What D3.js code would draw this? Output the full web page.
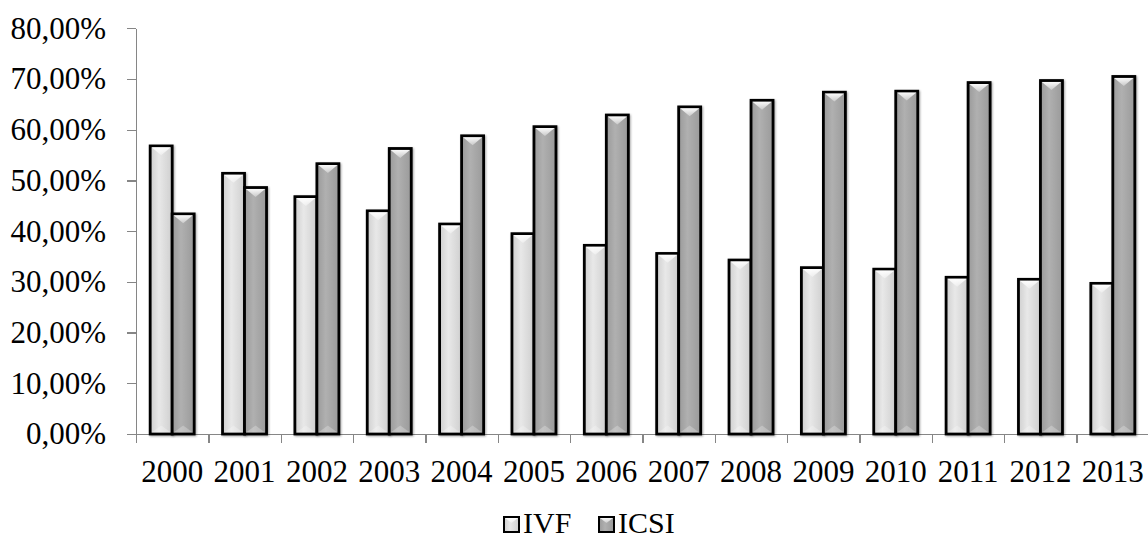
<!DOCTYPE html>
<html>
<head>
<meta charset="utf-8">
<script src="https://cdn.jsdelivr.net/npm/d3@7"></script>
<style>
  html, body { margin: 0; padding: 0; background: #fff; }
  svg { display: block; }
  text { font-family: "Liberation Serif", "Times New Roman", serif; fill: #000; }
  .axis path, .axis line { stroke: #868686; stroke-width: 1.3; shape-rendering: crispEdges; }
  .axis text { font-size: 31px; }
</style>
</head>
<body>
<svg width="1148" height="542"></svg>
<script>
// data
var years = ['2000', '2001', '2002', '2003', '2004', '2005', '2006',
    '2007', '2008', '2009', '2010', '2011', '2012', '2013'];
var seriesNames = ['IVF', 'ICSI'];
var ivf = [0.568, 0.514, 0.468, 0.440, 0.414, 0.395, 0.372, 0.356, 0.343, 0.328, 0.325, 0.309, 0.305, 0.297];
var icsi = [0.434, 0.486, 0.533, 0.563, 0.588, 0.606, 0.629, 0.645, 0.658, 0.674, 0.676, 0.693, 0.697, 0.705];
var yTicks = [0, 0.1, 0.2, 0.3, 0.4, 0.5, 0.6, 0.7, 0.8];

var svg = d3.select('svg');

// Layout
var plot = { l: 136, r: 1149, t: 28.3, b: 434 };
var barW = 22;

var x0 = d3.scaleBand().domain(years).range([plot.l, plot.r]);
var bw = x0.bandwidth();
var x1 = d3.scaleBand().domain(seriesNames).range([(bw - 2 * barW) / 2, (bw + 2 * barW) / 2]);
var y = d3.scaleLinear().domain([0, 0.8]).range([plot.b, plot.t]);

// comma decimal percent
var locale = d3.formatLocale({ decimal: ',', thousands: '.', grouping: [3], currency: ['', ''] });
var fmt = locale.format('.2%');

var colors = {
    IVF: { edge: '#cfcfcf', mid: '#e8e8e8' },
    ICSI: { edge: '#9a9a9a', mid: '#b0b0b0' }
};

// gradients + shadow
var defs = svg.append('defs');
seriesNames.forEach(function (s) {
    var g = defs.append('linearGradient').attr('id', 'grad-' + s)
        .attr('x1', 0).attr('x2', 1).attr('y1', 0).attr('y2', 0);
    g.append('stop').attr('offset', '0%').attr('stop-color', colors[s].edge);
    g.append('stop').attr('offset', '40%').attr('stop-color', colors[s].mid);
    g.append('stop').attr('offset', '100%').attr('stop-color', colors[s].edge);
});
var tg = defs.append('linearGradient').attr('id', 'topHi').attr('x1', 0).attr('x2', 0).attr('y1', 0).attr('y2', 1);
tg.append('stop').attr('offset', '0%').attr('stop-color', '#fff').attr('stop-opacity', 0.95);
tg.append('stop').attr('offset', '100%').attr('stop-color', '#fff').attr('stop-opacity', 0.35);
var shadow = defs.append('filter').attr('id', 'shadow').attr('x', '-30%').attr('y', '-10%').attr('width', '160%').attr('height', '120%');
shadow.append('feGaussianBlur').attr('in', 'SourceAlpha').attr('stdDeviation', 1.2).attr('result', 'b');
shadow.append('feOffset').attr('in', 'b').attr('dx', 0.5).attr('dy', 0.5).attr('result', 'o');
shadow.append('feComponentTransfer').attr('in', 'o').attr('result', 's')
    .append('feFuncA').attr('type', 'linear').attr('slope', 0.35);
var fm = shadow.append('feMerge');
fm.append('feMergeNode').attr('in', 's');
fm.append('feMergeNode').attr('in', 'SourceGraphic');

// Y axis
svg.append('g')
    .attr('class', 'axis y')
    .attr('transform', 'translate(' + plot.l + ',0)')
    .call(d3.axisLeft(y).tickValues(yTicks).tickFormat(fmt).tickSize(9).tickSizeOuter(0).tickPadding(21));

// X axis: boundary ticks
var xi = d3.scaleLinear().domain([0, years.length]).range([plot.l, plot.r]);
svg.append('g')
    .attr('class', 'axis x')
    .attr('transform', 'translate(0,' + plot.b + ')')
    .call(d3.axisBottom(xi).tickValues(d3.range(years.length + 1)).tickFormat('').tickSize(9).tickSizeOuter(0));

// X labels
var xl = svg.append('g')
    .attr('class', 'axis xl')
    .attr('transform', 'translate(0,' + plot.b + ')')
    .call(d3.axisBottom(x0).tickSize(0).tickPadding(26));
xl.select('.domain').remove();

// bars
var rows = years.map(function (yr, i) {
    return { year: yr, values: [{ s: 'IVF', v: ivf[i] }, { s: 'ICSI', v: icsi[i] }] };
});

var groups = svg.selectAll('.yr')
    .data(rows)
    .enter()
    .append('g')
    .attr('class', 'yr')
    .attr('transform', function (d) { return 'translate(' + x0(d.year) + ',0)'; });

var bars = groups.selectAll('.bar')
    .data(function (d) { return d.values; })
    .enter()
    .append('g')
    .attr('class', 'bar');

bars.append('rect')
    .attr('x', function (d) { return x1(d.s); })
    .attr('y', function (d) { return y(d.v); })
    .attr('width', x1.bandwidth())
    .attr('height', function (d) { return plot.b - y(d.v); })
    .attr('fill', function (d) { return 'url(#grad-' + d.s + ')'; })
    .attr('stroke', '#000')
    .attr('stroke-width', 2.8)
    .attr('filter', 'url(#shadow)');

// top bevel: light downward triangle
bars.append('path')
    .attr('d', function (d) {
        var xa = x1(d.s) + 1.4, xb = x1(d.s) + x1.bandwidth() - 1.4, t = y(d.v) + 1.4;
        return 'M' + xa + ',' + t + 'L' + xb + ',' + t + 'L' + (xa + xb) / 2 + ',' + (t + 8) + 'Z';
    })
    .attr('fill', 'url(#topHi)');

// bottom bevel: faint upward triangle
bars.append('path')
    .attr('d', function (d) {
        var xa = x1(d.s) + 1.4, xb = x1(d.s) + x1.bandwidth() - 1.4, b = plot.b - 1.4;
        return 'M' + xa + ',' + b + 'L' + xb + ',' + b + 'L' + (xa + xb) / 2 + ',' + (b - 7) + 'Z';
    })
    .attr('fill', '#fff')
    .attr('fill-opacity', 0.25);

// legend
var legendPos = [{ s: 'IVF', x: 503 }, { s: 'ICSI', x: 598 }];
var lg = svg.selectAll('.legend')
    .data(legendPos)
    .enter()
    .append('g')
    .attr('class', 'legend')
    .attr('transform', function (d) { return 'translate(' + d.x + ',516)'; });

lg.append('rect')
    .attr('x', 1).attr('y', 1)
    .attr('width', 15).attr('height', 15)
    .attr('fill', function (d) { return 'url(#grad-' + d.s + ')'; })
    .attr('stroke', '#000')
    .attr('stroke-width', 2);

lg.append('path')
    .attr('d', 'M2,2L15,2L8.5,7Z')
    .attr('fill', 'url(#topHi)');

lg.append('text')
    .attr('x', 20)
    .attr('y', 17)
    .style('font-size', '30px')
    .text(function (d) { return d.s; });
</script>
</body>
</html>
